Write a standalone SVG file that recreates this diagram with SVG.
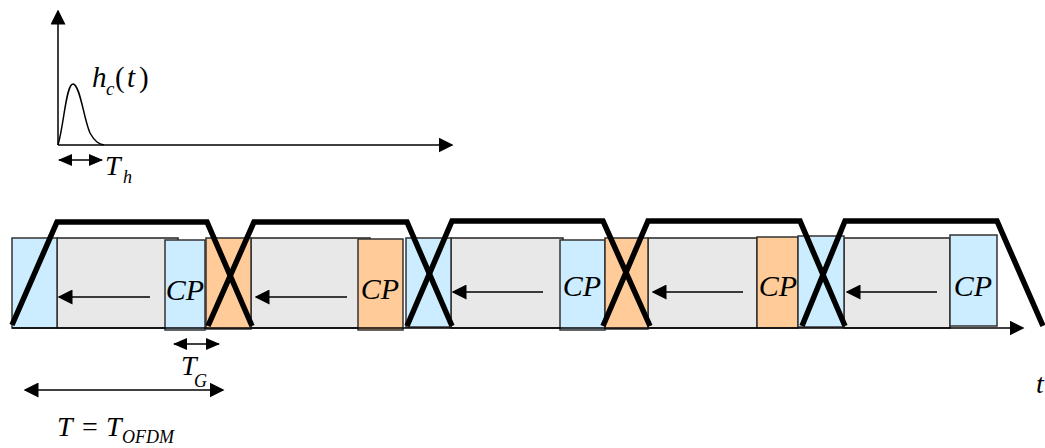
<svg xmlns="http://www.w3.org/2000/svg" width="1045" height="448" viewBox="0 0 1045 448">
<style>
.blue{fill:#CCECFF;stroke:#333;stroke-width:1.5}
.org{fill:#FFCC99;stroke:#333;stroke-width:1.5}
.gray{fill:#E8E8E8;stroke:#222;stroke-width:1.5}
.thin{fill:none;stroke:#000;stroke-width:1.5}
.thick{fill:none;stroke:#000;stroke-width:5.5;stroke-linejoin:miter}
</style>
<defs>
<marker id="ah" viewBox="0 0 14 12" refX="13" refY="6" markerWidth="14" markerHeight="12" markerUnits="userSpaceOnUse" orient="auto-start-reverse"><path d="M0,0 L14,6 L0,12 Z" fill="#000"/></marker>
<marker id="ahL" viewBox="0 0 10 10" refX="9" refY="5" markerWidth="15" markerHeight="15" markerUnits="userSpaceOnUse" orient="auto-start-reverse"><path d="M0,0 L10,5 L0,10 Z" fill="#000"/></marker>
</defs>

<g id="impulse-plot">
<line class="thin" x1="58" y1="145" x2="58" y2="11" marker-end="url(#ahL)"/>
<line class="thin" x1="58" y1="145" x2="452" y2="145" marker-end="url(#ahL)"/>
<path class="thin" d="M58,145 C64,125 66,84 73,84 C80,84 84,120 90,133 C95,142 99,144 104,145"/>
<line class="thin" x1="59" y1="160" x2="102" y2="160" stroke-width="2.5" marker-start="url(#ah)" marker-end="url(#ah)"/>
<text font-family="Liberation Serif" font-style="italic" x="92" y="87" font-size="29">h<tspan font-size="19" x="106" y="95">c</tspan><tspan font-style="normal" x="115" y="87">(</tspan><tspan x="127" y="87">t</tspan><tspan font-style="normal" x="139" y="87">)</tspan></text>
<text font-family="Liberation Serif" font-style="italic" x="105" y="175" font-size="28">T<tspan font-size="18" x="123" y="183">h</tspan></text>
</g>

<g id="symbol-1">
<rect class="gray" x="57" y="238" width="121" height="90"/>
<rect class="blue" x="12" y="238" width="45" height="90"/>
<rect class="blue" x="165" y="240" width="40" height="90"/>
<text font-family="Liberation Serif" font-style="italic" x="185" y="300" font-size="30" text-anchor="middle">CP</text>
</g>
<g id="symbol-2">
<rect class="gray" x="251" y="238" width="119" height="90"/>
<rect class="org" x="206" y="238" width="45" height="91"/>
<rect class="org" x="358" y="239" width="45" height="91"/>
<text font-family="Liberation Serif" font-style="italic" x="380" y="299" font-size="30" text-anchor="middle">CP</text>
</g>
<g id="symbol-3">
<rect class="gray" x="451" y="238" width="112" height="90"/>
<rect class="blue" x="406" y="238" width="45" height="89"/>
<rect class="blue" x="560" y="240" width="45" height="90"/>
<text font-family="Liberation Serif" font-style="italic" x="582" y="296" font-size="30" text-anchor="middle">CP</text>
</g>
<g id="symbol-4">
<rect class="gray" x="648" y="238" width="109" height="90"/>
<rect class="org" x="605" y="238" width="43" height="91"/>
<rect class="org" x="757" y="237" width="41" height="91"/>
<text font-family="Liberation Serif" font-style="italic" x="778" y="296" font-size="30" text-anchor="middle">CP</text>
</g>
<g id="symbol-5">
<rect class="gray" x="844" y="238" width="106" height="90"/>
<rect class="blue" x="798" y="236" width="46" height="91"/>
<rect class="blue" x="950" y="235" width="47" height="91"/>
<text font-family="Liberation Serif" font-style="italic" x="973" y="296" font-size="30" text-anchor="middle">CP</text>
</g>

<g id="connectors">
<line class="thin" x1="150" y1="297" x2="59" y2="297" marker-end="url(#ahL)"/>
<line class="thin" x1="347" y1="297" x2="256" y2="297" marker-end="url(#ahL)"/>
<line class="thin" x1="543" y1="292" x2="453" y2="292" marker-end="url(#ahL)"/>
<line class="thin" x1="743" y1="292" x2="653" y2="292" marker-end="url(#ahL)"/>
<line class="thin" x1="937" y1="292" x2="847" y2="292" marker-end="url(#ahL)"/>
<line class="thin" x1="12" y1="328" x2="1023" y2="328" stroke-width="2" marker-end="url(#ahL)"/>
<line class="thin" x1="174" y1="344" x2="219" y2="344" stroke-width="2.5" marker-start="url(#ah)" marker-end="url(#ah)"/>
<line class="thin" x1="25" y1="390" x2="223" y2="390" stroke-width="2" marker-start="url(#ahL)" marker-end="url(#ahL)"/>
</g>

<g id="windows">
<path class="thick" d="M12,325 L57,222 L207,222 L252,326"/>
<path class="thick" d="M208,326 L254,222 L407,222 L452,326"/>
<path class="thick" d="M407,326 L452,221 L603,221 L650,326"/>
<path class="thick" d="M603,326 L648,221 L800,221 L845,326"/>
<path class="thick" d="M802,326 L845,221 L997,221 L1043,326"/>
</g>

<g id="labels">
<text font-family="Liberation Serif" font-style="italic" x="181" y="375" font-size="28">T<tspan font-size="18" x="194" y="387">G</tspan></text>
<text font-family="Liberation Serif" font-style="italic" x="57" y="436" font-size="28">T<tspan font-style="normal" x="82">=</tspan><tspan x="106">T</tspan><tspan font-size="18" x="122" y="443">OFDM</tspan></text>
<text font-family="Liberation Serif" font-style="italic" x="1036" y="393" font-size="28">t</text>
</g>
</svg>
